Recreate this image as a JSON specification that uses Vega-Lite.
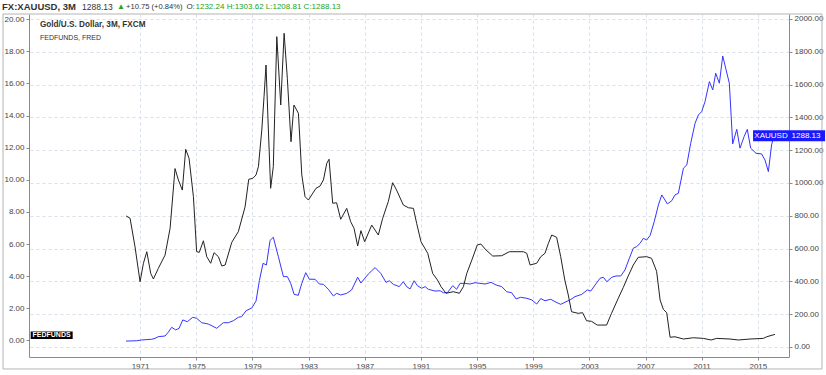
{
  "$schema": "https://vega.github.io/schema/vega-lite/v6.json",
  "width": 760,
  "height": 343,
  "autosize": "none",
  "padding": {"left": 29, "top": 14, "right": 37, "bottom": 18},
  "background": "#ffffff",
  "config": {
    "view": {"stroke": null},
    "font": "Liberation Sans",
    "axis": {
      "domainColor": "#8a8a8a", "tickColor": "#8a8a8a", "tickSize": 3,
      "labelFontSize": 8, "labelColor": "#444444", "labelPadding": 2,
      "labelOverlap": false, "gridDash": [3, 3], "gridColor": "#d8e1ea"
    }
  },
  "datasets": {
    "fed": [
      {"year": 1970.0, "rate": 7.75}, {"year": 1970.29, "rate": 7.6}, {"year": 1970.64, "rate": 5.83}, {"year": 1971.0, "rate": 3.65},
      {"year": 1971.24, "rate": 4.8}, {"year": 1971.48, "rate": 5.52}, {"year": 1971.76, "rate": 4.17}, {"year": 1971.95, "rate": 3.82},
      {"year": 1972.3, "rate": 4.48}, {"year": 1972.78, "rate": 5.31}, {"year": 1973.14, "rate": 6.98}, {"year": 1973.49, "rate": 10.7},
      {"year": 1973.73, "rate": 9.99}, {"year": 1974.01, "rate": 9.36}, {"year": 1974.25, "rate": 11.9}, {"year": 1974.49, "rate": 11.34},
      {"year": 1974.8, "rate": 8.95}, {"year": 1975.03, "rate": 5.52}, {"year": 1975.22, "rate": 5.48}, {"year": 1975.51, "rate": 6.2},
      {"year": 1975.75, "rate": 5.21}, {"year": 1976.03, "rate": 4.8}, {"year": 1976.27, "rate": 5.46}, {"year": 1976.58, "rate": 5.21},
      {"year": 1976.82, "rate": 4.63}, {"year": 1977.06, "rate": 4.69}, {"year": 1977.53, "rate": 6.1}, {"year": 1978.0, "rate": 6.77},
      {"year": 1978.48, "rate": 8.32}, {"year": 1978.74, "rate": 10.03}, {"year": 1979.03, "rate": 10.09}, {"year": 1979.26, "rate": 10.3},
      {"year": 1979.43, "rate": 10.82}, {"year": 1979.67, "rate": 13.1}, {"year": 1979.83, "rate": 15.18}, {"year": 1979.97, "rate": 17.15},
      {"year": 1980.14, "rate": 13.1}, {"year": 1980.3, "rate": 9.47}, {"year": 1980.49, "rate": 10.82}, {"year": 1980.74, "rate": 18.92},
      {"year": 1981.02, "rate": 14.66}, {"year": 1981.26, "rate": 19.13}, {"year": 1981.49, "rate": 16.32}, {"year": 1981.75, "rate": 12.37},
      {"year": 1981.96, "rate": 14.66}, {"year": 1982.28, "rate": 14.14}, {"year": 1982.52, "rate": 10.3}, {"year": 1982.75, "rate": 8.95},
      {"year": 1982.99, "rate": 8.74}, {"year": 1983.53, "rate": 9.47}, {"year": 1983.82, "rate": 9.61}, {"year": 1984.06, "rate": 9.99},
      {"year": 1984.3, "rate": 11.03}, {"year": 1984.46, "rate": 11.28}, {"year": 1984.72, "rate": 8.54}, {"year": 1985.0, "rate": 8.57},
      {"year": 1985.29, "rate": 7.54}, {"year": 1985.72, "rate": 8.22}, {"year": 1986.0, "rate": 7.39}, {"year": 1986.24, "rate": 6.98},
      {"year": 1986.5, "rate": 5.88}, {"year": 1986.73, "rate": 6.83}, {"year": 1987.0, "rate": 6.14}, {"year": 1987.5, "rate": 7.18},
      {"year": 1987.97, "rate": 6.56}, {"year": 1988.28, "rate": 7.6}, {"year": 1988.68, "rate": 8.64}, {"year": 1988.99, "rate": 9.82},
      {"year": 1989.27, "rate": 9.36}, {"year": 1989.75, "rate": 8.43}, {"year": 1990.11, "rate": 8.26}, {"year": 1990.47, "rate": 8.22},
      {"year": 1990.7, "rate": 7.29}, {"year": 1991.01, "rate": 6.14}, {"year": 1991.49, "rate": 5.42}, {"year": 1991.84, "rate": 4.17},
      {"year": 1992.18, "rate": 3.76}, {"year": 1992.44, "rate": 3.34}, {"year": 1992.79, "rate": 2.93}, {"year": 1993.31, "rate": 3.03},
      {"year": 1993.74, "rate": 2.93}, {"year": 1994.03, "rate": 3.34}, {"year": 1994.27, "rate": 4.17}, {"year": 1994.63, "rate": 5.0},
      {"year": 1995.02, "rate": 5.94}, {"year": 1995.27, "rate": 6.0}, {"year": 1995.64, "rate": 5.63}, {"year": 1996.12, "rate": 5.25},
      {"year": 1996.76, "rate": 5.27}, {"year": 1997.3, "rate": 5.52}, {"year": 1998.3, "rate": 5.52}, {"year": 1998.54, "rate": 5.42},
      {"year": 1998.78, "rate": 4.69}, {"year": 1999.25, "rate": 4.8}, {"year": 1999.54, "rate": 5.21}, {"year": 1999.84, "rate": 5.42},
      {"year": 2000.08, "rate": 6.04}, {"year": 2000.32, "rate": 6.56}, {"year": 2000.67, "rate": 6.42}, {"year": 2000.96, "rate": 5.21},
      {"year": 2001.25, "rate": 3.76}, {"year": 2001.5, "rate": 2.82}, {"year": 2001.73, "rate": 1.78}, {"year": 2002.21, "rate": 1.68},
      {"year": 2002.52, "rate": 1.72}, {"year": 2002.8, "rate": 1.22}, {"year": 2003.16, "rate": 1.18}, {"year": 2003.56, "rate": 0.95},
      {"year": 2004.23, "rate": 0.95}, {"year": 2004.58, "rate": 1.68}, {"year": 2005.06, "rate": 2.62}, {"year": 2005.42, "rate": 3.3},
      {"year": 2005.77, "rate": 4.01}, {"year": 2006.13, "rate": 4.69}, {"year": 2006.48, "rate": 5.17}, {"year": 2007.08, "rate": 5.21},
      {"year": 2007.43, "rate": 5.11}, {"year": 2007.79, "rate": 4.3}, {"year": 2008.04, "rate": 2.51}, {"year": 2008.27, "rate": 1.93},
      {"year": 2008.51, "rate": 1.72}, {"year": 2008.75, "rate": 0.19}, {"year": 2009.1, "rate": 0.22}, {"year": 2009.7, "rate": 0.08},
      {"year": 2010.41, "rate": 0.16}, {"year": 2011.12, "rate": 0.12}, {"year": 2011.67, "rate": 0.02}, {"year": 2012.07, "rate": 0.12},
      {"year": 2013.02, "rate": 0.08}, {"year": 2013.61, "rate": 0.02}, {"year": 2014.44, "rate": 0.08}, {"year": 2015.39, "rate": 0.12},
      {"year": 2015.63, "rate": 0.22}, {"year": 2016.22, "rate": 0.37}
    ],
    "gold": [
      {"year": 1970.0, "price": 36}, {"year": 1970.76, "price": 38}, {"year": 1971.12, "price": 43}, {"year": 1971.83, "price": 47},
      {"year": 1972.07, "price": 53}, {"year": 1972.3, "price": 63}, {"year": 1972.78, "price": 67}, {"year": 1973.01, "price": 90},
      {"year": 1973.25, "price": 120}, {"year": 1973.54, "price": 104}, {"year": 1973.78, "price": 114}, {"year": 1974.04, "price": 165},
      {"year": 1974.37, "price": 154}, {"year": 1974.75, "price": 181}, {"year": 1975.03, "price": 175}, {"year": 1975.39, "price": 148},
      {"year": 1975.86, "price": 140}, {"year": 1976.46, "price": 114}, {"year": 1976.93, "price": 148}, {"year": 1977.29, "price": 148},
      {"year": 1977.64, "price": 160}, {"year": 1978.0, "price": 181}, {"year": 1978.24, "price": 185}, {"year": 1978.55, "price": 221},
      {"year": 1978.96, "price": 238}, {"year": 1979.26, "price": 280}, {"year": 1979.5, "price": 405}, {"year": 1979.76, "price": 510},
      {"year": 1980.0, "price": 500}, {"year": 1980.26, "price": 650}, {"year": 1980.49, "price": 669}, {"year": 1980.85, "price": 551},
      {"year": 1981.21, "price": 429}, {"year": 1981.49, "price": 429}, {"year": 1981.73, "price": 388}, {"year": 1981.97, "price": 321},
      {"year": 1982.27, "price": 315}, {"year": 1982.52, "price": 388}, {"year": 1982.8, "price": 453}, {"year": 1983.06, "price": 413},
      {"year": 1983.46, "price": 413}, {"year": 1983.77, "price": 384}, {"year": 1984.06, "price": 382}, {"year": 1984.41, "price": 352},
      {"year": 1984.77, "price": 311}, {"year": 1985.01, "price": 327}, {"year": 1985.29, "price": 317}, {"year": 1985.72, "price": 327},
      {"year": 1986.07, "price": 348}, {"year": 1986.5, "price": 425}, {"year": 1986.73, "price": 390}, {"year": 1987.26, "price": 445},
      {"year": 1987.74, "price": 484}, {"year": 1988.14, "price": 449}, {"year": 1988.52, "price": 394}, {"year": 1988.75, "price": 404},
      {"year": 1989.04, "price": 382}, {"year": 1989.46, "price": 368}, {"year": 1989.75, "price": 398}, {"year": 1989.99, "price": 368},
      {"year": 1990.23, "price": 354}, {"year": 1990.52, "price": 404}, {"year": 1990.75, "price": 374}, {"year": 1991.06, "price": 358},
      {"year": 1991.3, "price": 368}, {"year": 1991.53, "price": 352}, {"year": 1992.01, "price": 341}, {"year": 1992.37, "price": 343},
      {"year": 1992.6, "price": 331}, {"year": 1992.89, "price": 331}, {"year": 1993.27, "price": 374}, {"year": 1993.55, "price": 352},
      {"year": 1993.79, "price": 388}, {"year": 1994.15, "price": 388}, {"year": 1994.5, "price": 384}, {"year": 1994.86, "price": 392},
      {"year": 1995.21, "price": 388}, {"year": 1995.57, "price": 384}, {"year": 1996.0, "price": 394}, {"year": 1996.36, "price": 378},
      {"year": 1996.76, "price": 368}, {"year": 1997.11, "price": 337}, {"year": 1997.47, "price": 331}, {"year": 1997.78, "price": 293},
      {"year": 1998.1, "price": 303}, {"year": 1998.54, "price": 297}, {"year": 1998.9, "price": 287}, {"year": 1999.25, "price": 262},
      {"year": 1999.54, "price": 295}, {"year": 1999.84, "price": 282}, {"year": 2000.25, "price": 291}, {"year": 2000.56, "price": 276},
      {"year": 2000.96, "price": 260}, {"year": 2001.34, "price": 276}, {"year": 2001.63, "price": 287}, {"year": 2001.98, "price": 307},
      {"year": 2002.46, "price": 321}, {"year": 2002.86, "price": 348}, {"year": 2003.1, "price": 341}, {"year": 2003.41, "price": 378},
      {"year": 2003.76, "price": 419}, {"year": 2004.0, "price": 425}, {"year": 2004.24, "price": 398}, {"year": 2004.6, "price": 425},
      {"year": 2004.9, "price": 433}, {"year": 2005.24, "price": 433}, {"year": 2005.54, "price": 470}, {"year": 2005.85, "price": 541},
      {"year": 2006.13, "price": 602}, {"year": 2006.37, "price": 612}, {"year": 2006.61, "price": 632}, {"year": 2006.85, "price": 663},
      {"year": 2007.08, "price": 652}, {"year": 2007.33, "price": 680}, {"year": 2007.62, "price": 764}, {"year": 2007.92, "price": 866},
      {"year": 2008.16, "price": 927}, {"year": 2008.56, "price": 872}, {"year": 2008.87, "price": 892}, {"year": 2009.1, "price": 927},
      {"year": 2009.34, "price": 937}, {"year": 2009.7, "price": 1090}, {"year": 2009.94, "price": 1110}, {"year": 2010.22, "price": 1242},
      {"year": 2010.53, "price": 1364}, {"year": 2010.77, "price": 1415}, {"year": 2011.0, "price": 1435}, {"year": 2011.24, "price": 1496},
      {"year": 2011.55, "price": 1618}, {"year": 2011.79, "price": 1567}, {"year": 2012.0, "price": 1669}, {"year": 2012.26, "price": 1608},
      {"year": 2012.5, "price": 1774}, {"year": 2012.74, "price": 1689}, {"year": 2012.97, "price": 1608}, {"year": 2013.21, "price": 1238},
      {"year": 2013.5, "price": 1327}, {"year": 2013.73, "price": 1212}, {"year": 2014.02, "price": 1282}, {"year": 2014.25, "price": 1327},
      {"year": 2014.49, "price": 1212}, {"year": 2014.87, "price": 1181}, {"year": 2015.27, "price": 1177}, {"year": 2015.51, "price": 1140},
      {"year": 2015.75, "price": 1069}, {"year": 2015.98, "price": 1232}, {"year": 2016.15, "price": 1288.13}
    ]
  },
  "layer": [
    {
      "data": {"name": "gold"},
      "mark": {"type": "line", "color": "#3535ff", "strokeWidth": 1},
      "encoding": {
        "x": {
          "field": "year", "type": "quantitative",
          "scale": {"domain": [1963.09, 2017.22], "nice": false, "zero": false},
          "axis": {
            "title": null, "values": [1971, 1975, 1979, 1983, 1987, 1991, 1995, 1999, 2003, 2007, 2011, 2015],
            "format": "d", "grid": true, "labelOverlap": false
          }
        },
        "y": {
          "field": "price", "type": "quantitative",
          "scale": {"domain": [-61, 2030], "nice": false, "zero": false},
          "axis": {
            "orient": "right", "title": null,
            "values": [0, 200, 400, 600, 800, 1000, 1200, 1400, 1600, 1800, 2000],
            "format": ".2f", "grid": true, "labelOverlap": false
          }
        }
      }
    },
    {
      "data": {"name": "fed"},
      "mark": {"type": "line", "color": "#222222", "strokeWidth": 1},
      "encoding": {
        "x": {"field": "year", "type": "quantitative"},
        "y": {
          "field": "rate", "type": "quantitative",
          "scale": {"domain": [-1.04, 20.33], "nice": false, "zero": false},
          "axis": {
            "orient": "left", "title": null,
            "values": [0, 2, 4, 6, 8, 10, 12, 14, 16, 18, 20],
            "format": ".2f", "grid": false, "labelOverlap": false
          }
        }
      }
    },
    {
      "data": {"values": [{}]},
      "encoding": {
        "y": {"datum": 0, "type": "quantitative", "scale": {"domain": [-61, 2030], "nice": false, "zero": false}, "axis": null}
      },
      "layer": [
        {
          "mark": {"type": "rect", "fill": null, "fillOpacity": 0, "stroke": "#b4b4b4", "strokeWidth": 1},
          "encoding": {
            "x": {"datum": 1961.24, "type": "quantitative"}, "x2": {"datum": 2019.57},
            "y": {"datum": 2030, "type": "quantitative", "axis": null}, "y2": {"datum": -134}
          }
        },
        {
          "mark": {"type": "text", "text": "FX:XAUUSD, 3M", "align": "left", "baseline": "middle", "fontSize": 9.5, "fontWeight": "bold", "color": "#333333"},
          "encoding": {"x": {"datum": 1961.17, "type": "quantitative"}, "y": {"datum": 2073, "type": "quantitative", "axis": null}}
        },
        {
          "mark": {"type": "text", "text": "1288.13", "align": "left", "baseline": "middle", "fontSize": 8.5, "color": "#333333"},
          "encoding": {"x": {"datum": 1966.87, "type": "quantitative"}, "y": {"datum": 2073, "type": "quantitative", "axis": null}}
        },
        {
          "mark": {"type": "text", "text": "▲", "align": "left", "baseline": "middle", "fontSize": 8, "color": "#22a322"},
          "encoding": {"x": {"datum": 1969.36, "type": "quantitative"}, "y": {"datum": 2073, "type": "quantitative", "axis": null}}
        },
        {
          "mark": {"type": "text", "text": "+10.75 (+0.84%)", "align": "left", "baseline": "middle", "fontSize": 7.6, "color": "#333333"},
          "encoding": {"x": {"datum": 1970.0, "type": "quantitative"}, "y": {"datum": 2073, "type": "quantitative", "axis": null}}
        },
        {
          "mark": {"type": "text", "text": "O:", "align": "left", "baseline": "middle", "fontSize": 8, "color": "#333333"},
          "encoding": {"x": {"datum": 1974.3, "type": "quantitative"}, "y": {"datum": 2073, "type": "quantitative", "axis": null}}
        },
        {
          "mark": {"type": "text", "text": "1232.24 H:1303.62 L:1208.81 C:1288.13", "align": "left", "baseline": "middle", "fontSize": 8, "color": "#22a322"},
          "encoding": {"x": {"datum": 1974.95, "type": "quantitative"}, "y": {"datum": 2073, "type": "quantitative", "axis": null}}
        },
        {
          "mark": {"type": "text", "text": "Gold/U.S. Dollar, 3M, FXCM", "align": "left", "baseline": "middle", "fontSize": 8.2, "fontWeight": "bold", "color": "#333333"},
          "encoding": {"x": {"datum": 1963.87, "type": "quantitative"}, "y": {"datum": 1963, "type": "quantitative", "axis": null}}
        },
        {
          "mark": {"type": "text", "text": "FEDFUNDS, FRED", "align": "left", "baseline": "middle", "fontSize": 7, "color": "#333333"},
          "encoding": {"x": {"datum": 1963.87, "type": "quantitative"}, "y": {"datum": 1884, "type": "quantitative", "axis": null}}
        },
        {
          "mark": {"type": "rect", "fill": "#1a1aff"},
          "encoding": {
            "x": {"datum": 2014.66, "type": "quantitative"}, "x2": {"datum": 2019.79},
            "y": {"datum": 1322, "type": "quantitative", "axis": null}, "y2": {"datum": 1254}
          }
        },
        {
          "mark": {"type": "text", "text": "XAUUSD", "align": "center", "baseline": "middle", "fontSize": 8, "color": "#ffffff"},
          "encoding": {"x": {"datum": 2015.94, "type": "quantitative"}, "y": {"datum": 1288, "type": "quantitative", "axis": null}}
        },
        {
          "mark": {"type": "text", "text": "1288.13", "align": "center", "baseline": "middle", "fontSize": 8, "color": "#ffffff"},
          "encoding": {"x": {"datum": 2018.43, "type": "quantitative"}, "y": {"datum": 1288, "type": "quantitative", "axis": null}}
        },
        {
          "mark": {"type": "rect", "fill": "#000000"},
          "encoding": {
            "x": {"datum": 1963.21, "type": "quantitative"}, "x2": {"datum": 1966.2},
            "y": {"datum": 94, "type": "quantitative", "axis": null}, "y2": {"datum": 48}
          }
        },
        {
          "mark": {"type": "text", "text": "FEDFUNDS", "align": "center", "baseline": "middle", "fontSize": 7, "fontWeight": "bold", "color": "#ffffff"},
          "encoding": {"x": {"datum": 1964.7, "type": "quantitative"}, "y": {"datum": 71, "type": "quantitative", "axis": null}}
        }
      ]
    }
  ],
  "resolve": {"scale": {"y": "independent"}}
}
